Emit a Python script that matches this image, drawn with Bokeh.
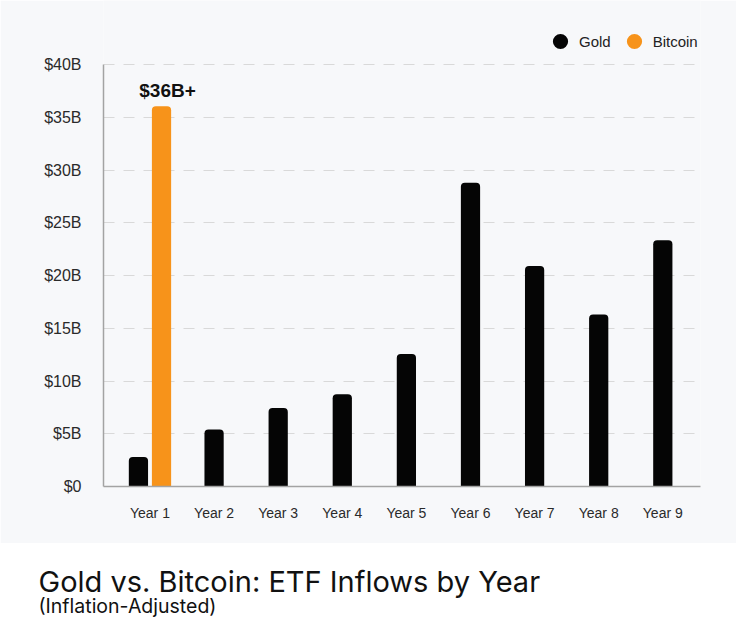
from bokeh.plotting import figure
from bokeh.models import Range1d, FixedTicker, Legend, LegendItem, ColumnDataSource
from bokeh.layouts import column
from bokeh.embed import file_html
from bokeh.resources import INLINE
from bokeh.core.properties import value

# ---- data ----
years = ["Year 1", "Year 2", "Year 3", "Year 4", "Year 5", "Year 6", "Year 7", "Year 8", "Year 9"]
gold = [2.8, 5.4, 7.45, 8.75, 12.55, 28.8, 20.9, 16.3, 23.35]
bitcoin_years = ["Year 1"]
bitcoin = [36.05]
bitcoin_labels = ["$36B+"]
y_ticks = [0, 5, 10, 15, 20, 25, 30, 35, 40]
y_tick_labels = ["$0", "$5B", "$10B", "$15B", "$20B", "$25B", "$30B", "$35B", "$40B"]
title_text = "Gold vs. Bitcoin: ETF Inflows by Year"
subtitle_text = "(Inflation-Adjusted)"

BG = "#f7f8fa"
GOLD_C = "#050505"
BTC_C = "#f7931a"
FONT = "Liberation Sans"

pos = {y: i + 1 for i, y in enumerate(years)}
dodge = 0.18
gold_x = [pos[y] - dodge if y in bitcoin_years else pos[y] for y in years]
btc_x = [pos[y] + dodge for y in bitcoin_years]

gold_src = ColumnDataSource(dict(x=gold_x, top=gold, year=years))
btc_src = ColumnDataSource(dict(x=btc_x, top=bitcoin, label=bitcoin_labels))

# frame spans from page top (legend lives inside it); axis line limited to 0..40
y_top = 40 + 64 / (422 / 40)
p = figure(width=736, height=543, output_backend="svg", toolbar_location=None,
           x_range=Range1d(0.275, 9.588), y_range=Range1d(0, y_top),
           min_border_left=103, min_border_right=36, min_border_top=0, min_border_bottom=57,
           background_fill_color=BG, border_fill_color=BG, outline_line_color=None)
p.frame_align = False

p.vbar(x="x", top="top", bottom=0, width=0.3, source=gold_src, fill_color=GOLD_C,
       line_color=None, border_radius=(4, 4, 0, 0))
p.vbar(x="x", top="top", bottom=0, width=0.3, source=btc_src, fill_color=BTC_C,
       line_color=None, border_radius=(4, 4, 0, 0))
p.text(x="x", y="top", text="label", source=btc_src, text_align="center",
       text_baseline="bottom", x_offset=6, y_offset=-5, text_font=value(FONT),
       text_font_size="19px", text_font_style="bold", text_color="#111111")

# legend: marker renderers share the bar sources but are hidden; the legend still draws them
g_leg = p.scatter(x="x", y="top", source=gold_src, marker="circle", size=15,
                  fill_color=GOLD_C, line_color=None, visible=False)
b_leg = p.scatter(x="x", y="top", source=btc_src, marker="circle", size=15,
                  fill_color=BTC_C, line_color=None, visible=False)
legend = Legend(items=[LegendItem(label="Gold", renderers=[g_leg], index=0),
                       LegendItem(label="Bitcoin", renderers=[b_leg], index=0)],
                orientation="horizontal", location=(438, 426),
                glyph_width=38, glyph_height=38, label_standoff=0, spacing=4,
                padding=0, margin=0, background_fill_alpha=0, border_line_color=None,
                inactive_fill_alpha=0,
                label_text_font=FONT, label_text_font_size="15px", label_text_color="#222222")
p.add_layout(legend)

# axes
p.xaxis.ticker = FixedTicker(ticks=[pos[y] for y in years])
p.xaxis.major_label_overrides = {pos[y]: y for y in years}
p.yaxis.ticker = FixedTicker(ticks=y_ticks)
p.yaxis.major_label_overrides = {t: l for t, l in zip(y_ticks, y_tick_labels)}
p.yaxis.bounds = (y_ticks[0], y_ticks[-1])
for ax in (p.xaxis, p.yaxis):
    ax.axis_line_color = "#a3a3a3"
    ax.axis_line_width = 1.5
    ax.major_tick_line_color = None
    ax.minor_tick_line_color = None
    ax.major_label_text_font = FONT
    ax.major_label_text_color = "#2a2a2a"
p.xaxis.major_label_text_font_size = "14px"
p.yaxis.major_label_text_font_size = "16px"
p.yaxis.major_label_standoff = 16
p.xaxis.major_label_standoff = 12

p.xgrid.grid_line_color = None
p.ygrid.grid_line_color = "#d9d9d9"
p.ygrid.grid_line_dash = "11 9"
p.ygrid.grid_line_width = 1

# title area
t = figure(width=736, height=87, output_backend="svg", toolbar_location=None,
           x_range=Range1d(0, 736), y_range=Range1d(0, 87),
           x_axis_type=None, y_axis_type=None,
           min_border=0, background_fill_color="white", border_fill_color="white",
           outline_line_color=None)
t.frame_align = False
t.grid.visible = False
tsrc = ColumnDataSource(dict(x=[38, 38], y=[49, 25], text=[title_text, subtitle_text],
                             size=["29px", "19.5px"]))
t.text(x="x", y="y", text="text", source=tsrc, text_font=value("Inter"),
       text_font_size="size", text_baseline="alphabetic", text_align="left",
       text_color="#111111")

layout = column(p, t, spacing=0)
open("out.html", "w").write(file_html(layout, INLINE))
